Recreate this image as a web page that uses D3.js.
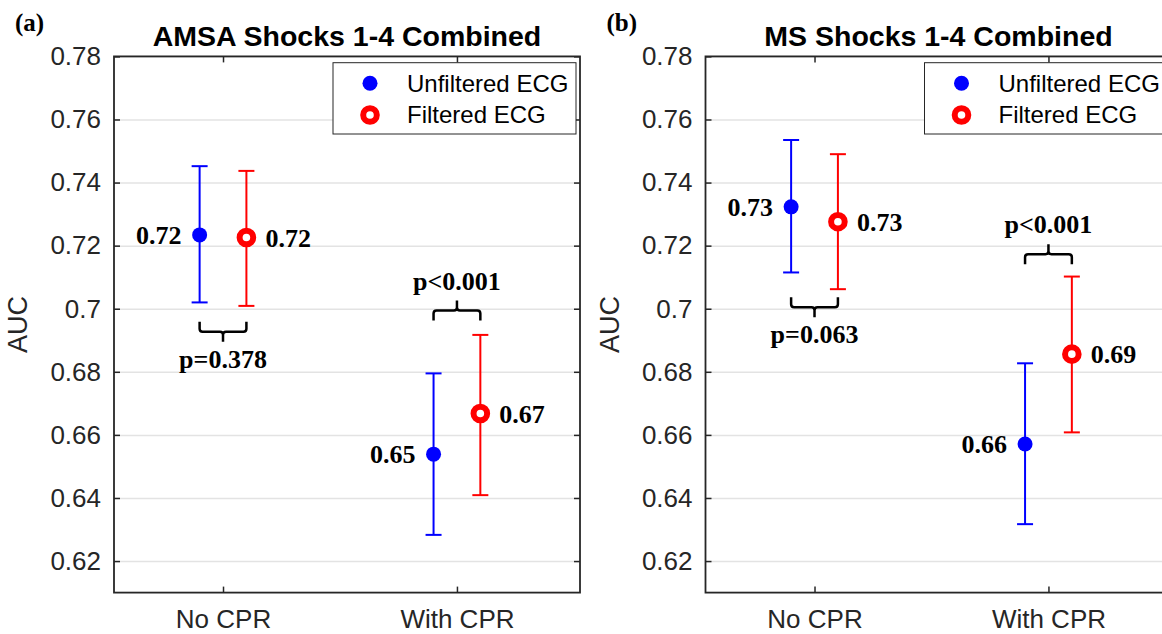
<!DOCTYPE html>
<html>
<head>
<meta charset="utf-8">
<script src="https://cdn.jsdelivr.net/npm/d3@7"></script>
<style>
  html, body { margin: 0; padding: 0; background: #fff; }
  svg { display: block; }
</style>
</head>
<body>
<svg id="chart" width="1162" height="634"></svg>
<script>
// ---- data -------------------------------------------------------------
const categories = ["No CPR", "With CPR"];
const seriesNames = ["Unfiltered ECG", "Filtered ECG"];
const panelTitles = ["AMSA Shocks 1-4 Combined", "MS Shocks 1-4 Combined"];
const panelTags = ["(a)", "(b)"];
const yTicks = [0.62, 0.64, 0.66, 0.68, 0.70, 0.72, 0.74, 0.76, 0.78];

// AUC with 95% confidence limits, one value per category
const amsaUnfilteredAuc = [0.7234, 0.6539];
const amsaUnfilteredLow = [0.7020, 0.6283];
const amsaUnfilteredHigh = [0.7452, 0.6795];
const amsaFilteredAuc = [0.7226, 0.6668];
const amsaFilteredLow = [0.7009, 0.6409];
const amsaFilteredHigh = [0.7437, 0.6917];
const amsaPValues = ["p=0.378", "p<0.001"];

const msUnfilteredAuc = [0.7323, 0.6571];
const msUnfilteredLow = [0.7115, 0.6317];
const msUnfilteredHigh = [0.7535, 0.6827];
const msFilteredAuc = [0.7276, 0.6856];
const msFilteredLow = [0.7062, 0.6608];
const msFilteredHigh = [0.7490, 0.7102];
const msPValues = ["p=0.063", "p<0.001"];

// ---- assemble panels ----------------------------------------------------
const panels = [
  {
    title: panelTitles[0], tag: panelTags[0], pValues: amsaPValues,
    series: [
      { auc: amsaUnfilteredAuc, low: amsaUnfilteredLow, high: amsaUnfilteredHigh },
      { auc: amsaFilteredAuc, low: amsaFilteredLow, high: amsaFilteredHigh }
    ],
    bracketLevel: [0.6927, 0.6994]
  },
  {
    title: panelTitles[1], tag: panelTags[1], pValues: msPValues,
    series: [
      { auc: msUnfilteredAuc, low: msUnfilteredLow, high: msUnfilteredHigh },
      { auc: msFilteredAuc, low: msFilteredLow, high: msFilteredHigh }
    ],
    bracketLevel: [0.7005, 0.7173]
  }
];

// ---- layout & style -----------------------------------------------------
const plotW = 466, plotTop = 56.4, plotBottom = 592.6;
const panelLeft = [114, 705.5];
const colors = ["#0000ff", "#ff0000"];
const dodge = [-0.1, 0.1];
const axisColor = "#262626";
const sansFont = "'Liberation Sans', Arial, Helvetica, sans-serif";
const serifFont = "'Liberation Serif', 'Times New Roman', serif";

const x = d3.scaleLinear().domain([0.534, 2.526]).range([0, plotW]);
const y = d3.scaleLinear().domain([0.61, 0.78]).range([plotBottom, plotTop]);
const fmt2 = d3.format(".2f");

const svg = d3.select("#chart");

panels.forEach((p, pi) => {
  const g = svg.append("g").attr("transform", `translate(${panelLeft[pi]},0)`);

  // horizontal grid
  g.append("g")
    .call(d3.axisLeft(y).tickValues(yTicks).tickSize(-plotW).tickFormat(""))
    .call(s => s.select(".domain").remove())
    .call(s => s.selectAll("line").attr("stroke", "#e3e3e3").attr("stroke-width", 1.5));

  // error bars and markers
  p.series.forEach((s, si) => {
    const sg = g.append("g");
    const pts = categories.map((c, ci) => ({
      cx: x(ci + 1 + dodge[si]), auc: s.auc[ci], low: s.low[ci], high: s.high[ci]
    }));
    pts.forEach(d => {
      sg.append("line")
        .attr("x1", d.cx).attr("x2", d.cx)
        .attr("y1", y(d.low)).attr("y2", y(d.high))
        .attr("stroke", colors[si]).attr("stroke-width", 2);
      [d.low, d.high].forEach(v => {
        sg.append("line")
          .attr("x1", d.cx - 8).attr("x2", d.cx + 8)
          .attr("y1", y(v)).attr("y2", y(v))
          .attr("stroke", colors[si]).attr("stroke-width", 2);
      });
      if (si === 0) {
        sg.append("circle").attr("cx", d.cx).attr("cy", y(d.auc)).attr("r", 7.5)
          .attr("fill", colors[si]);
        sg.append("text").attr("x", d.cx - 18).attr("y", y(d.auc)).attr("dy", "0.35em")
          .attr("text-anchor", "end").attr("font-family", serifFont)
          .attr("font-weight", "bold").attr("font-size", 26).text(fmt2(d.auc));
      } else {
        sg.append("circle").attr("cx", d.cx).attr("cy", y(d.auc)).attr("r", 6.8)
          .attr("fill", "#fff").attr("stroke", colors[si]).attr("stroke-width", 6);
        sg.append("text").attr("x", d.cx + 19).attr("y", y(d.auc)).attr("dy", "0.35em")
          .attr("text-anchor", "start").attr("font-family", serifFont)
          .attr("font-weight", "bold").attr("font-size", 26).text(fmt2(d.auc));
      }
    });
  });

  // significance brackets
  categories.forEach((c, ci) => {
    const x0 = x(ci + 1 + dodge[0]), x1 = x(ci + 1 + dodge[1]), xm = x(ci + 1);
    const level = p.bracketLevel[ci];
    const yl = y(level);
    const highest = Math.max(p.series[0].high[ci], p.series[1].high[ci]);
    const above = level > highest;
    const s = above ? 1 : -1;       // arm direction: +1 = down
    const arm = 10, stem = 10, rr = 3;
    const path = [
      `M${x0},${yl + s * arm}`,
      `L${x0},${yl + s * rr}`,
      `Q${x0},${yl} ${x0 + rr},${yl}`,
      `L${xm - rr},${yl}`,
      `Q${xm},${yl} ${xm},${yl - s * rr}`,
      `L${xm},${yl - s * stem}`,
      `M${xm},${yl - s * rr}`,
      `Q${xm},${yl} ${xm + rr},${yl}`,
      `L${x1 - rr},${yl}`,
      `Q${x1},${yl} ${x1},${yl + s * rr}`,
      `L${x1},${yl + s * arm}`
    ].join(" ");
    g.append("path").attr("d", path).attr("fill", "none")
      .attr("stroke", "#000").attr("stroke-width", 2.5);
    g.append("text")
      .attr("x", xm)
      .attr("y", above ? yl - stem - 11 : yl + stem + 26)
      .attr("text-anchor", "middle").attr("font-family", serifFont)
      .attr("font-weight", "bold").attr("font-size", 26).text(p.pValues[ci]);
  });

  // axes: left/right with labels on the left, top/bottom ticks at categories
  const yAxisL = g.append("g")
    .call(d3.axisLeft(y).tickValues(yTicks).tickSize(-6).tickSizeOuter(0).tickPadding(13)
      .tickFormat(d3.format(".2~f")));
  const yAxisR = g.append("g").attr("transform", `translate(${plotW},0)`)
    .call(d3.axisRight(y).tickValues(yTicks).tickSize(-6).tickSizeOuter(0).tickFormat(""));
  const xAxisB = g.append("g").attr("transform", `translate(0,${plotBottom})`)
    .call(d3.axisBottom(x).tickValues([1, 2]).tickSize(-6).tickSizeOuter(0).tickPadding(17)
      .tickFormat((d, i) => categories[i]));
  const xAxisT = g.append("g").attr("transform", `translate(0,${plotTop})`)
    .call(d3.axisTop(x).tickValues([1, 2]).tickSize(-6).tickSizeOuter(0).tickFormat(""));
  [yAxisL, yAxisR, xAxisB, xAxisT].forEach(a => {
    a.select(".domain").remove();
    a.selectAll("line").attr("stroke", axisColor).attr("stroke-width", 1.5);
    a.selectAll("text").attr("fill", axisColor).attr("font-family", sansFont).attr("font-size", 26);
  });
  xAxisB.selectAll("text").attr("dy", "0.71em");

  g.append("rect").attr("x", 0).attr("y", plotTop).attr("width", plotW).attr("height", plotBottom - plotTop)
    .attr("fill", "none").attr("stroke", axisColor).attr("stroke-width", 1.8);

  // y label
  g.append("text")
    .attr("transform", `translate(${-87},${(plotTop + plotBottom) / 2}) rotate(-90)`)
    .attr("text-anchor", "middle").attr("font-family", sansFont).attr("font-size", 27)
    .attr("fill", axisColor).text("AUC");

  // title & panel tag
  g.append("text").attr("x", plotW / 2).attr("y", 46).attr("text-anchor", "middle")
    .attr("font-family", sansFont).attr("font-weight", "bold").attr("font-size", 28.5)
    .attr("fill", "#000").text(p.title);
  g.append("text").attr("x", -99).attr("y", 31).attr("text-anchor", "start")
    .attr("font-family", serifFont).attr("font-weight", "bold").attr("font-size", 25)
    .attr("fill", "#000").text(p.tag);

  // legend
  const lg = g.append("g").attr("transform", `translate(${219},${62.7})`);
  lg.append("rect").attr("width", 243).attr("height", 71.3)
    .attr("fill", "#fff").attr("stroke", axisColor).attr("stroke-width", 1);
  seriesNames.forEach((name, si) => {
    const ly = 20.6 + si * 31.7;
    if (si === 0) {
      lg.append("circle").attr("cx", 37).attr("cy", ly).attr("r", 7.5).attr("fill", colors[si]);
    } else {
      lg.append("circle").attr("cx", 37).attr("cy", ly).attr("r", 6.8)
        .attr("fill", "#fff").attr("stroke", colors[si]).attr("stroke-width", 6);
    }
    lg.append("text").attr("x", 74).attr("y", ly).attr("dy", "0.35em")
      .attr("font-family", sansFont).attr("font-size", 24).attr("fill", "#000").text(name);
  });
});
</script>
</body>
</html>
